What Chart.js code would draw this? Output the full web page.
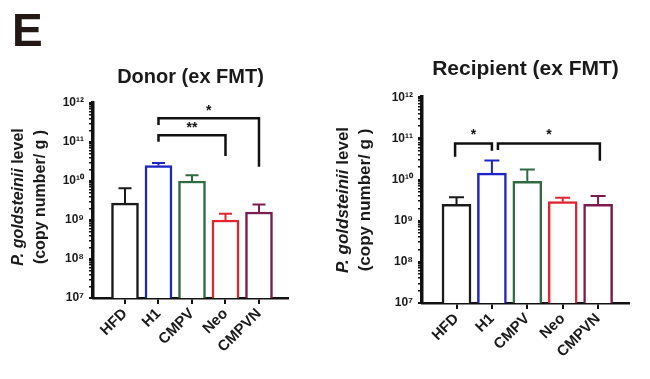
<!DOCTYPE html>
<html><head><meta charset="utf-8">
<script src="https://cdn.jsdelivr.net/npm/chart.js@4"></script>
<style>
html,body{margin:0;padding:0;background:#fff;width:650px;height:379px;overflow:hidden}
#wrap{position:relative;width:650px;height:379px;background:#fff}
.box{position:absolute;top:0;width:325px;height:379px}
#panelLetter{position:absolute;left:12px;top:3px;font:bold 46px "Liberation Sans",Arial,sans-serif;color:#231815}
</style></head><body>
<div id="wrap">
<div class="box" style="left:0"><canvas id="c1" width="325" height="379"></canvas></div>
<div class="box" style="left:325px"><canvas id="c2" width="325" height="379"></canvas></div>
<div id="panelLetter">E</div>
</div>
<script>
// ---- data ----
const categories = ['HFD', 'H1', 'CMPV', 'Neo', 'CMPVN'];
const barColors = ['#1a1a1a', '#1f24c4', '#2e6b40', '#e0252e', '#7a1d4c'];
const donorMeans = [2.7e9, 2.5e10, 1.0e10, 1.0e9, 1.6e9];
const donorUpper = [6.5e9, 2.9e10, 1.4e10, 1.45e9, 2.5e9];
const recipMeans = [2.5e9, 1.43e10, 9.1e9, 2.9e9, 2.5e9];
const recipUpper = [3.7e9, 2.9e10, 1.76e10, 3.6e9, 4.0e9];
const yTickValues = [1e7, 1e8, 1e9, 1e10, 1e11, 1e12];
const yTickLabels = ['10\u2077', '10\u2078', '10\u2079', '10\u00b9\u2070', '10\u00b9\u00b9', '10\u00b9\u00b2'];
const donorBrackets = [
  { from: 1, to: 3, y: 1.5e11, legFrom: 1.02e11, legTo: 4.4e10, label: '**' },
  { from: 1, to: 4, y: 4.05e11, legFrom: 2.73e11, legTo: 2.33e10, label: '*' }
];
const recipBrackets = [
  { from: -0.04, to: 1.0, y: 7.5e10, legFrom: 3.56e10, legTo: 4.97e10, label: '*' },
  { from: 1.17, to: 4.05, y: 7.5e10, legFrom: 5.2e10, legTo: 2.84e10, label: '*' }
];
const yTitleLine1Italic = 'P. goldsteinii';
const yTitleLine1Rest = ' level';
const yTitleLine2 = '(copy number/ g )';

const FONT = '"Liberation Sans", Arial, Helvetica, sans-serif';
Chart.defaults.font.family = FONT;
Chart.defaults.color = '#1a1a1a';

// minor log ticks derived from the decade ticks
function logTicks() {
  const out = [];
  yTickValues.forEach((d, i) => {
    out.push({ value: d, major: true });
    if (i < yTickValues.length - 1) for (let k = 2; k <= 9; k++) out.push({ value: d * k, major: false });
  });
  return out;
}
function decadeLabel(v) {
  const i = yTickValues.findIndex(t => Math.abs(t - v) / t < 1e-6);
  return i >= 0 ? yTickLabels[i] : '';
}

function makeChart(canvasId, cfg) {
  const errorBars = {
    id: 'errorBars',
    afterDatasetsDraw(chart) {
      const { ctx, scales: { x, y } } = chart;
      ctx.save();
      ctx.lineWidth = 2;
      cfg.means.forEach((m, i) => {
        const px = x.getPixelForValue(i);
        const yb = y.getPixelForValue(m);
        const yt = y.getPixelForValue(cfg.upper[i]);
        ctx.strokeStyle = barColors[i];
        ctx.beginPath();
        ctx.moveTo(px, yb); ctx.lineTo(px, yt);
        ctx.moveTo(px - cfg.cap / 2, yt); ctx.lineTo(px + cfg.cap / 2, yt);
        ctx.stroke();
      });
      ctx.restore();
    }
  };
  const brackets = {
    id: 'brackets',
    afterDatasetsDraw(chart) {
      const { ctx, scales: { x, y } } = chart;
      ctx.save();
      ctx.strokeStyle = '#111';
      ctx.lineWidth = 2.5;
      ctx.lineJoin = 'miter';
      ctx.fillStyle = '#111';
      ctx.font = 'bold 14px ' + FONT;
      ctx.textAlign = 'center';
      ctx.textBaseline = 'alphabetic';
      cfg.brackets.forEach(b => {
        const x1 = x.getPixelForValue(b.from), x2 = x.getPixelForValue(b.to);
        const yy = y.getPixelForValue(b.y);
        ctx.beginPath();
        ctx.moveTo(x1, y.getPixelForValue(b.legFrom));
        ctx.lineTo(x1, yy); ctx.lineTo(x2, yy);
        ctx.lineTo(x2, y.getPixelForValue(b.legTo));
        ctx.stroke();
        ctx.fillText(b.label, (x1 + x2) / 2, yy - cfg.starGap);
      });
      ctx.restore();
    }
  };
  const yTitle = {
    id: 'yTitle',
    afterDraw(chart) {
      const { ctx, chartArea } = chart;
      const cy = cfg.titleCenterY;
      ctx.save();
      ctx.fillStyle = '#1a1a1a';
      ctx.textBaseline = 'middle';
      ctx.textAlign = 'left';
      // line 1
      ctx.save();
      ctx.translate(cfg.yTitleX1, cy);
      ctx.rotate(-Math.PI / 2);
      const fi = 'italic bold ' + cfg.yTitleSize + 'px ' + FONT;
      const fn = 'bold ' + cfg.yTitleSize + 'px ' + FONT;
      ctx.font = fi; const w1 = ctx.measureText(yTitleLine1Italic).width;
      ctx.font = fn; const w2 = ctx.measureText(yTitleLine1Rest).width;
      const start = -(w1 + w2) / 2;
      ctx.font = fi; ctx.fillText(yTitleLine1Italic, start, 0);
      ctx.font = fn; ctx.fillText(yTitleLine1Rest, start + w1, 0);
      ctx.restore();
      // line 2
      ctx.save();
      ctx.translate(cfg.yTitleX2, cy);
      ctx.rotate(-Math.PI / 2);
      ctx.font = fn; ctx.textAlign = 'center';
      ctx.fillText(yTitleLine2, 0, 0);
      ctx.restore();
      ctx.restore();
    }
  };

  return new Chart(document.getElementById(canvasId), {
    type: 'bar',
    data: {
      datasets: [{
        data: cfg.means.map((v, i) => ({ x: i, y: v })),
        backgroundColor: '#ffffff',
        borderColor: barColors,
        borderWidth: 2.5,
        borderSkipped: 'start',
        barThickness: cfg.barW
      }]
    },
    options: {
      responsive: false,
      animation: false,
      layout: { padding: { left: 0, right: cfg.padRight, top: 0, bottom: 0 } },
      plugins: {
        legend: { display: false },
        tooltip: { enabled: false },
        title: {
          display: true, text: cfg.title, fullSize: false, color: '#1a1a1a',
          font: { size: cfg.titleSize, weight: 'bold' },
          padding: { top: cfg.titlePadTop, bottom: cfg.titlePadBottom }
        }
      },
      scales: {
        x: {
          type: 'linear', min: cfg.xMin, max: cfg.xMax, offset: false,
          afterBuildTicks: s => { s.ticks = categories.map((c, i) => ({ value: i })); },
          afterFit: s => { s.height = cfg.xHeight; },
          ticks: {
            autoSkip: false, minRotation: 45, maxRotation: 45, padding: 1,
            font: { size: cfg.xTickSize, weight: 'bold' }, color: '#1a1a1a',
            callback: v => categories[Math.round(v)]
          },
          grid: { offset: false, drawOnChartArea: false, drawTicks: true, tickLength: 6, lineWidth: 2, color: '#111' },
          border: { display: true, width: 2.5, color: '#111' }
        },
        y: {
          type: 'logarithmic', min: 1e7, max: 1e12,
          afterBuildTicks: s => { s.ticks = logTicks(); },
          afterFit: s => { s.width = cfg.yWidth; },
          ticks: {
            autoSkip: false, padding: 5,
            font: { size: 12, weight: 'bold' }, color: '#1a1a1a',
            callback: v => decadeLabel(v)
          },
          grid: {
            drawOnChartArea: false, drawTicks: true, tickLength: 4, color: '#111',
            lineWidth: c => (c.tick && c.tick.major) ? 2 : 1.5
          },
          border: { display: true, width: 3.5, color: '#111' }
        }
      }
    },
    plugins: [errorBars, brackets, yTitle]
  });
}

makeChart('c1', {
  title: 'Donor (ex FMT)', titleSize: 20, titlePadTop: 65, titlePadBottom: 14,
  means: donorMeans, upper: donorUpper, brackets: donorBrackets,
  xMin: -0.955, xMax: 4.866, yWidth: 93, padRight: 37, xHeight: 81,
  barW: 27, cap: 13, starGap: 3, xTickSize: 15,
  yTitleX1: 19, yTitleX2: 41, titleCenterY: 197, yTitleSize: 16
});
makeChart('c2', {
  title: 'Recipient (ex FMT)', titleSize: 21, titlePadTop: 57, titlePadBottom: 15,
  means: recipMeans, upper: recipUpper, brackets: recipBrackets,
  xMin: -0.975, xMax: 4.873, yWidth: 97, padRight: 21, xHeight: 76,
  barW: 29, cap: 15, starGap: 5, xTickSize: 15,
  yTitleX1: 18, yTitleX2: 40, titleCenterY: 200, yTitleSize: 17
});
</script>
</body></html>
